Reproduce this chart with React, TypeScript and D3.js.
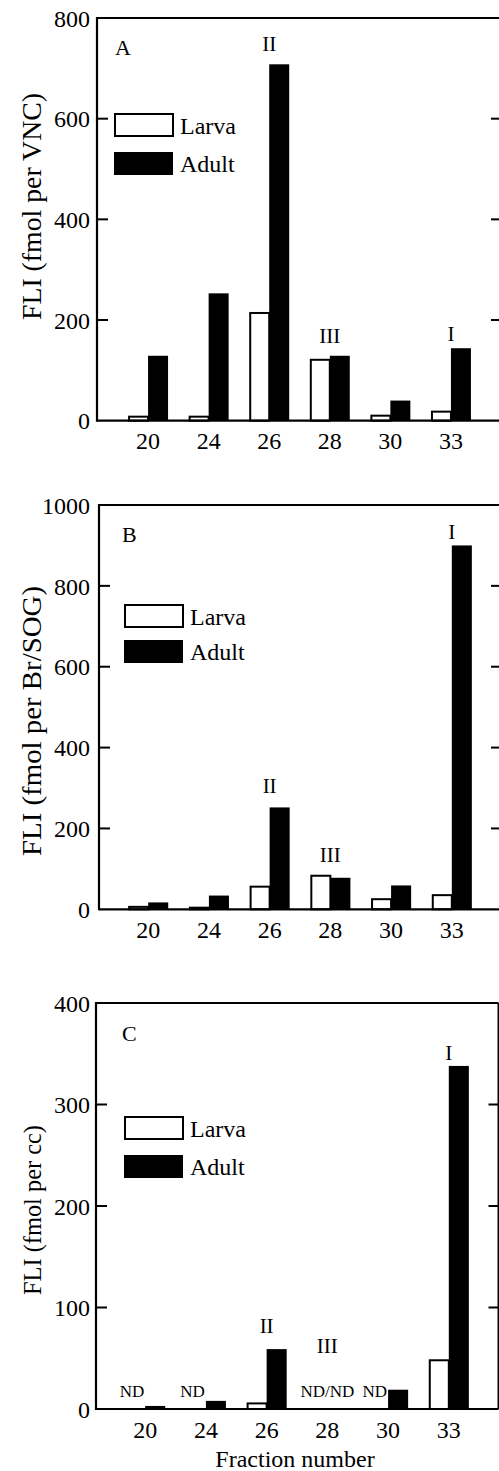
import React from "react";
import * as d3 from "d3";

const fractions = ["20", "24", "26", "28", "30", "33"];
const seriesNames = ["Larva", "Adult"];

const larvaA: (number | null)[] = [8, 8, 214, 121, 10, 18];
const adultA: (number | null)[] = [129, 253, 708, 129, 40, 144];
const larvaB: (number | null)[] = [6, 4, 56, 83, 25, 35];
const adultB: (number | null)[] = [17, 34, 252, 78, 59, 900];
const larvaC: (number | null)[] = [null, null, 5.5, null, null, 48];
const adultC: (number | null)[] = [3, 8, 59, null, 19, 338];

const ticksA = [0, 200, 400, 600, 800];
const ticksB = [0, 200, 400, 600, 800, 1000];
const ticksC = [0, 100, 200, 300, 400];

const peakNames = ["II", "III", "I"];
const peakFractions = ["26", "28", "33"];
const peakLevelsA = [734, 154, 159];
const peakLevelsB = [288, 118, 915];
const peakLevelsC = [75, 55, 344];

const ndFractionsC = ["20", "24", "28", "30"];
const ndTextsC = ["ND", "ND", "ND/ND", "ND"];
const ndLevelC = 12;

const yLabels = ["FLI (fmol per VNC)", "FLI (fmol per Br/SOG)", "FLI (fmol per cc)"];
const panelLetters = ["A", "B", "C"];
const xTitle = "Fraction number";

const FONT = "\"Liberation Serif\", \"DejaVu Serif\", \"Times New Roman\", Times, serif";

type Panel = {
  letter: string;
  yLabel: string;
  larva: (number | null)[];
  adult: (number | null)[];
  ticks: number[];
  peaks: number[];
  nd?: boolean;
  top: number;
  bottom: number;
  left: number;
  right: number;
  band: [number, number];
  letterX: number;
  letterY: number;
  legX: number;
  legY: number;
  legGap: number;
  yLabY: number;
  yLabLen: number;
  yLabSize: number;
};

const panels: Panel[] = [
  {
    letter: panelLetters[0], yLabel: yLabels[0], larva: larvaA, adult: adultA, ticks: ticksA, peaks: peakLevelsA,
    top: 18, bottom: 420.7, left: 97, right: 501, band: [97, 502],
    letterX: 115, letterY: 55, legX: 115, legY: 114, legGap: 38,
    yLabY: 206.5, yLabLen: 227, yLabSize: 27,
  },
  {
    letter: panelLetters[1], yLabel: yLabels[1], larva: larvaB, adult: adultB, ticks: ticksB, peaks: peakLevelsB,
    top: 505, bottom: 909.3, left: 99, right: 501, band: [97, 503],
    letterX: 122, letterY: 542, legX: 125, legY: 605, legGap: 35,
    yLabY: 721, yLabLen: 270, yLabSize: 28,
  },
  {
    letter: panelLetters[2], yLabel: yLabels[2], larva: larvaC, adult: adultC, ticks: ticksC, peaks: peakLevelsC, nd: true,
    top: 1003, bottom: 1409, left: 96, right: 498.5, band: [94, 500],
    letterX: 122, letterY: 1041, legX: 125, legY: 1117, legGap: 38,
    yLabY: 1210, yLabLen: 170, yLabSize: 25,
  },
];

const txt = (size: number): React.CSSProperties => ({ fontFamily: FONT, fontSize: size });

function PanelChart({ p }: { p: Panel }) {
  const x = d3.scaleBand<string>().domain(fractions).range(p.band).paddingInner(0.34).paddingOuter(0.513);
  const xs = d3.scaleBand<string>().domain(seriesNames).range([0, x.bandwidth()]).padding(0);
  const yMax = d3.max(p.ticks) as number;
  const y = d3.scaleLinear().domain([0, yMax]).range([p.bottom, p.top]);
  const bw = xs.bandwidth();
  const center = (f: string) => (x(f) as number) + x.bandwidth() / 2;
  const inner = p.ticks.filter((t) => t > 0 && t < yMax);

  return (
    <g fill="#000">
      {fractions.map((f, i) => {
        const lv = p.larva[i];
        const av = p.adult[i];
        return (
          <g key={f}>
            {lv != null && (
              <rect
                x={(x(f) as number) + (xs("Larva") as number) + 1}
                y={y(lv)}
                width={bw - 1}
                height={Math.max(0, y(0) - y(lv))}
                fill="#fff"
                stroke="#000"
                strokeWidth={2}
              />
            )}
            {av != null && (
              <rect
                x={(x(f) as number) + (xs("Adult") as number)}
                y={y(av)}
                width={bw}
                height={Math.max(0, y(0) - y(av))}
                fill="#000"
              />
            )}
          </g>
        );
      })}
      <line x1={p.left} x2={p.left} y1={p.top - 1} y2={p.bottom + 1} stroke="#000" strokeWidth={2.2} />
      <line x1={p.left} x2={p.right} y1={p.top} y2={p.top} stroke="#000" strokeWidth={2} />
      <line x1={p.left} x2={p.right} y1={p.bottom} y2={p.bottom} stroke="#000" strokeWidth={2.2} />
      <line x1={p.right} x2={p.right} y1={p.top} y2={p.bottom} stroke="#000" strokeWidth={2} />
      {inner.map((t) => (
        <g key={t}>
          <line x1={p.left} x2={p.left + 11} y1={y(t)} y2={y(t)} stroke="#000" strokeWidth={2} />
          <line x1={p.right - 10} x2={p.right} y1={y(t)} y2={y(t)} stroke="#000" strokeWidth={2} />
        </g>
      ))}
      {p.ticks.map((t) => (
        <text key={t} x={90} y={y(t)} dy="0.36em" textAnchor="end" style={txt(24)}>
          {t}
        </text>
      ))}
      {fractions.map((f) => (
        <text key={f} x={center(f)} y={p.bottom + 28.5} textAnchor="middle" style={txt(24)}>
          {f}
        </text>
      ))}
      <text
        transform={`translate(41,${p.yLabY}) rotate(-90)`}
        textAnchor="middle"
        style={txt(p.yLabSize)}
        textLength={p.yLabLen}
        lengthAdjust="spacingAndGlyphs"
      >
        {p.yLabel}
      </text>
      <text x={p.letterX} y={p.letterY} style={txt(22)}>
        {p.letter}
      </text>
      {peakNames.map((n, i) => (
        <text key={n} x={center(peakFractions[i])} y={y(p.peaks[i])} textAnchor="middle" style={txt(21)}>
          {n}
        </text>
      ))}
      {p.nd &&
        ndFractionsC.map((f, i) => {
          const both = ndTextsC[i].includes("/");
          return (
            <text
              key={f}
              x={both ? center(f) : center(f) - 1}
              y={y(ndLevelC)}
              textAnchor={both ? "middle" : "end"}
              style={txt(17)}
            >
              {ndTextsC[i]}
            </text>
          );
        })}
      <rect x={p.legX} y={p.legY} width={58} height={22} fill="#fff" stroke="#000" strokeWidth={2} />
      <rect x={p.legX - 1} y={p.legY + p.legGap} width={59} height={23} fill="#000" />
      <text x={p.legX + 65} y={p.legY + 20} style={txt(24)}>
        {seriesNames[0]}
      </text>
      <text x={p.legX + 65} y={p.legY + p.legGap + 20} style={txt(24)}>
        {seriesNames[1]}
      </text>
    </g>
  );
}

export default function App() {
  return (
    <svg
      width={499}
      height={1471}
      viewBox="0 0 499 1471"
      style={{ position: "absolute", left: 0, top: 0, background: "#fff" }}
    >
      <rect x={0} y={0} width={499} height={1471} fill="#fff" />
      {panels.map((p) => (
        <PanelChart key={p.letter} p={p} />
      ))}
      <text x={295} y={1467} textAnchor="middle" style={txt(24)}>
        {xTitle}
      </text>
    </svg>
  );
}
